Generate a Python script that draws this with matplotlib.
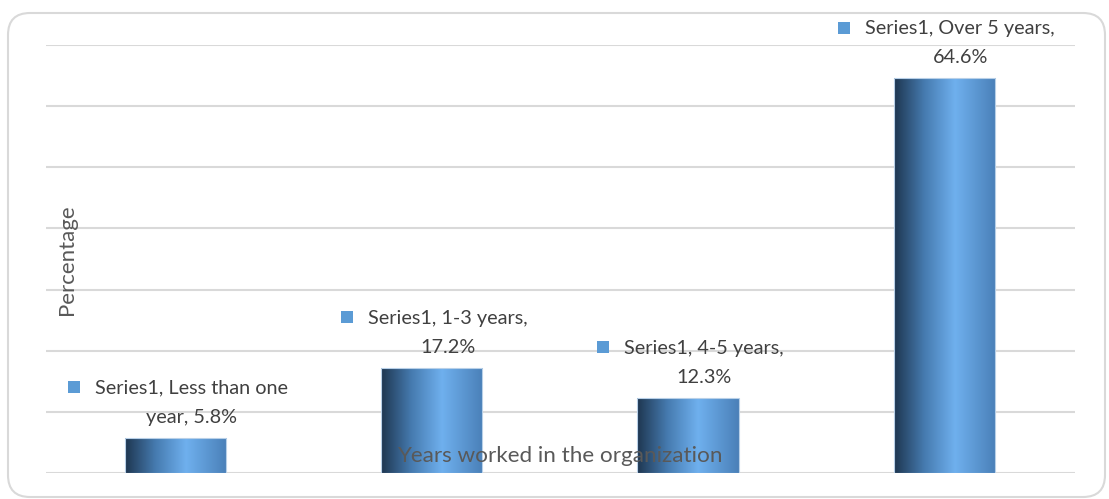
import matplotlib
matplotlib.use("Agg")
import matplotlib.pyplot as plt
import numpy as np
from matplotlib.colors import LinearSegmentedColormap
from matplotlib.patches import FancyBboxPatch, Rectangle
from matplotlib.transforms import IdentityTransform

categories = ["Less than one year", "1-3 years", "4-5 years", "Over 5 years"]
values = [5.8, 17.2, 12.3, 64.6]
label_line1 = ["Series1, Less than one", "Series1, 1-3 years,", "Series1, 4-5 years,", "Series1, Over 5 years,"]
label_line2 = ["year, 5.8%", "17.2%", "12.3%", "64.6%"]
series_name = "Series1"

W, H = 1109, 499
fig = plt.figure(figsize=(W / 100, H / 100), dpi=100)
fig.patch.set_facecolor("white")

# rounded border
border = FancyBboxPatch((8, 2), 1097, 484, boxstyle="round,pad=0,rounding_size=22",
                        transform=IdentityTransform(), facecolor="none",
                        edgecolor="#d9d9d9", linewidth=1.5)
fig.patches.append(border)

ax = fig.add_axes([46 / W, 1 - 473 / H, (1075 - 46) / W, (473 - 45) / H])
ax.set_yticks(np.arange(0, 71, 10))
ax.yaxis.grid(True, color="#d9d9d9", linewidth=1.5)
ax.set_axisbelow(True)
for s in ax.spines.values():
    s.set_visible(False)
ax.tick_params(left=False, bottom=False, labelleft=False, labelbottom=False)

cmap = LinearSegmentedColormap.from_list("bar", [(0, "#1e3650"), (0.3, "#467bb0"), (0.6, "#6fb0ee"), (1.0, "#4a80b8")])
grad = np.linspace(0, 1, 256).reshape(1, -1)
x = np.arange(len(categories))
bars = ax.bar(x, values, width=0.396, facecolor="none", edgecolor="#b8d0e8", linewidth=0.8, zorder=3)
for b in bars:
    im = ax.imshow(grad, cmap=cmap, aspect="auto", zorder=2.5,
                   extent=(b.get_x(), b.get_x() + b.get_width(), 0, b.get_height()))
    im.set_clip_path(b)
ax.set_xlim(-0.505, 3.51)
ax.set_ylim(0, 70)

font = "Lato"
txt_color = "#404040"
texts = []
for i, v in enumerate(values):
    t1 = ax.annotate(label_line1[i], xy=(i, v), xytext=(16, 44), textcoords="offset pixels",
                     ha="center", va="baseline", fontsize=14.3, family=font, color=txt_color)
    ax.annotate(label_line2[i], xy=(i, v), xytext=(16, 15), textcoords="offset pixels",
                ha="center", va="baseline", fontsize=14.3, family=font, color=txt_color)
    texts.append(t1)

ax.text((67 - 46) / 1029, (473 - 260) / 428, "Percentage", transform=ax.transAxes, rotation=90,
        ha="center", va="center", fontsize=16, family=font, color="#595959")
ax.text((560 - 46) / 1029, (473 - 456) / 428, "Years worked in the organization", transform=ax.transAxes,
        ha="center", va="center", fontsize=16.2, family=font, color="#595959", zorder=5)

fig.canvas.draw()
r = fig.canvas.get_renderer()
for t in texts:
    bb = t.get_window_extent(r)
    cy = bb.y0 + 0.55 * (bb.y1 - bb.y0)
    sq = Rectangle((bb.x0 - 27, cy - 6), 12, 12, transform=IdentityTransform(),
                   facecolor="#5b9bd5", edgecolor="none")
    fig.patches.append(sq)

fig.savefig("out.png", dpi=100)
